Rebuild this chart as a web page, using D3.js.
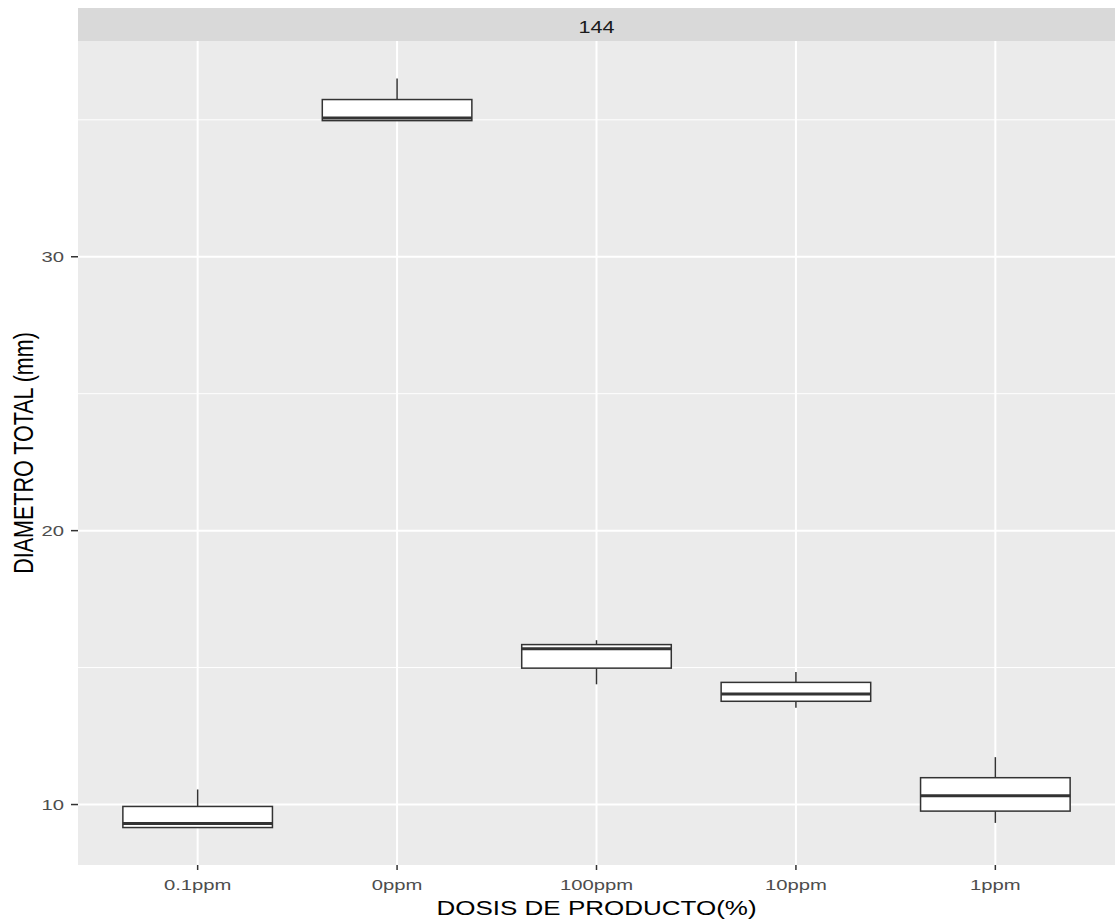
<!DOCTYPE html>
<html>
<head>
<meta charset="utf-8">
<script src="https://cdn.jsdelivr.net/npm/d3@7"></script>
<style>
  html, body { margin: 0; padding: 0; background: #fff; }
  svg { display: block; font-family: "Liberation Sans", Arial, sans-serif; }
</style>
</head>
<body>
<svg id="chart" width="1115" height="920"></svg>
<script>
// Treatment groups (x axis order as plotted)
const categories = ["0.1ppm", "0ppm", "100ppm", "10ppm", "1ppm"];
// Box statistics per group: whisker low, Q1, median, Q3, whisker high
const whiskerLow  = [9.16, 34.97, 14.39, 13.53, 9.33];
const q1          = [9.16, 34.97, 14.98, 13.77, 9.76];
const median      = [9.31, 35.07, 15.69, 14.04, 10.32];
const q3          = [9.93, 35.74, 15.84, 14.46, 10.98];
const whiskerHigh = [10.55, 36.51, 16.00, 14.84, 11.73];
const yTicks = [10, 20, 30];
const yMinor = [15, 25, 35];
const facetLabel = "144";
const xTitle = "DOSIS DE PRODUCTO(%)";
const yTitle = "DIAMETRO TOTAL (mm)";

const svg = d3.select("#chart");
const panel = { left: 78, right: 1115, top: 41, bottom: 865 };
const strip = { top: 8, bottom: 41 };
const sx = 1.35; // horizontal text stretch of the output device

const rows = categories.map((c, i) => ({
  cat: c, lo: whiskerLow[i], q1: q1[i], med: median[i], q3: q3[i], hi: whiskerHigh[i]
}));

// y: data range plus 5% on each side
const dmin = d3.min(rows, d => d.lo), dmax = d3.max(rows, d => d.hi);
const pad = (dmax - dmin) * 0.05;
const y = d3.scaleLinear().domain([dmin - pad, dmax + pad]).range([panel.bottom, panel.top]);
const x = d3.scalePoint().domain(categories).range([panel.left, panel.right]).padding(0.6);
const boxW = x.step() * 0.75;

// panel background
svg.append("rect")
  .attr("x", panel.left).attr("y", panel.top)
  .attr("width", panel.right - panel.left).attr("height", panel.bottom - panel.top)
  .attr("fill", "#EBEBEB");

// grid
const grid = svg.append("g");
grid.selectAll("line.minor").data(yMinor).join("line")
  .attr("x1", panel.left).attr("x2", panel.right)
  .attr("y1", d => y(d)).attr("y2", d => y(d))
  .attr("stroke", "#fff").attr("stroke-width", 1);
grid.selectAll("line.majory").data(yTicks).join("line")
  .attr("x1", panel.left).attr("x2", panel.right)
  .attr("y1", d => y(d)).attr("y2", d => y(d))
  .attr("stroke", "#fff").attr("stroke-width", 2);
grid.selectAll("line.majorx").data(categories).join("line")
  .attr("x1", d => x(d)).attr("x2", d => x(d))
  .attr("y1", panel.top).attr("y2", panel.bottom)
  .attr("stroke", "#fff").attr("stroke-width", 2);

// facet strip
svg.append("rect")
  .attr("x", panel.left).attr("y", strip.top)
  .attr("width", panel.right - panel.left).attr("height", strip.bottom - strip.top)
  .attr("fill", "#D9D9D9");
svg.append("text")
  .attr("transform", `translate(${(panel.left + panel.right) / 2},33) scale(${sx},1)`)
  .attr("text-anchor", "middle").attr("font-size", 16).attr("fill", "#1A1A1A")
  .text(facetLabel);

// boxplots
const stroke = "#333333";
const g = svg.append("g").selectAll("g").data(rows).join("g");
g.append("line")
  .attr("x1", d => x(d.cat)).attr("x2", d => x(d.cat))
  .attr("y1", d => y(d.hi)).attr("y2", d => y(d.q3))
  .attr("stroke", stroke).attr("stroke-width", 1.5);
g.append("line")
  .attr("x1", d => x(d.cat)).attr("x2", d => x(d.cat))
  .attr("y1", d => y(d.q1)).attr("y2", d => y(d.lo))
  .attr("stroke", stroke).attr("stroke-width", 1.5);
g.append("rect")
  .attr("x", d => x(d.cat) - boxW / 2).attr("width", boxW)
  .attr("y", d => y(d.q3)).attr("height", d => y(d.q1) - y(d.q3))
  .attr("fill", "#fff").attr("stroke", stroke).attr("stroke-width", 1.5);
g.append("line")
  .attr("x1", d => x(d.cat) - boxW / 2).attr("x2", d => x(d.cat) + boxW / 2)
  .attr("y1", d => y(d.med)).attr("y2", d => y(d.med))
  .attr("stroke", stroke).attr("stroke-width", 3);

// y axis
const ya = svg.append("g");
ya.selectAll("line").data(yTicks).join("line")
  .attr("x1", panel.left - 7).attr("x2", panel.left)
  .attr("y1", d => y(d)).attr("y2", d => y(d))
  .attr("stroke", "#333").attr("stroke-width", 1.5);
ya.selectAll("text").data(yTicks).join("text")
  .attr("transform", d => `translate(${panel.left - 14},${y(d) + 5.5}) scale(${sx},1)`)
  .attr("text-anchor", "end").attr("font-size", 15).attr("fill", "#4D4D4D")
  .text(d => d);

// x axis
const xa = svg.append("g");
xa.selectAll("line").data(categories).join("line")
  .attr("x1", d => x(d)).attr("x2", d => x(d))
  .attr("y1", panel.bottom).attr("y2", panel.bottom + 5)
  .attr("stroke", "#333").attr("stroke-width", 1.5);
xa.selectAll("text").data(categories).join("text")
  .attr("transform", d => `translate(${x(d)},890) scale(${sx},1)`)
  .attr("text-anchor", "middle").attr("font-size", 15).attr("fill", "#4D4D4D")
  .text(d => d);

// axis titles
svg.append("text")
  .attr("transform", `translate(${(panel.left + panel.right) / 2},915) scale(1.3,1)`)
  .attr("text-anchor", "middle").attr("font-size", 20).attr("fill", "#000")
  .text(xTitle);
svg.append("text")
  .attr("transform", `translate(33,${(panel.top + panel.bottom) / 2}) scale(1.3,1) rotate(-90)`)
  .attr("text-anchor", "middle").attr("font-size", 21.5).attr("fill", "#000")
  .text(yTitle);
</script>
</body>
</html>
